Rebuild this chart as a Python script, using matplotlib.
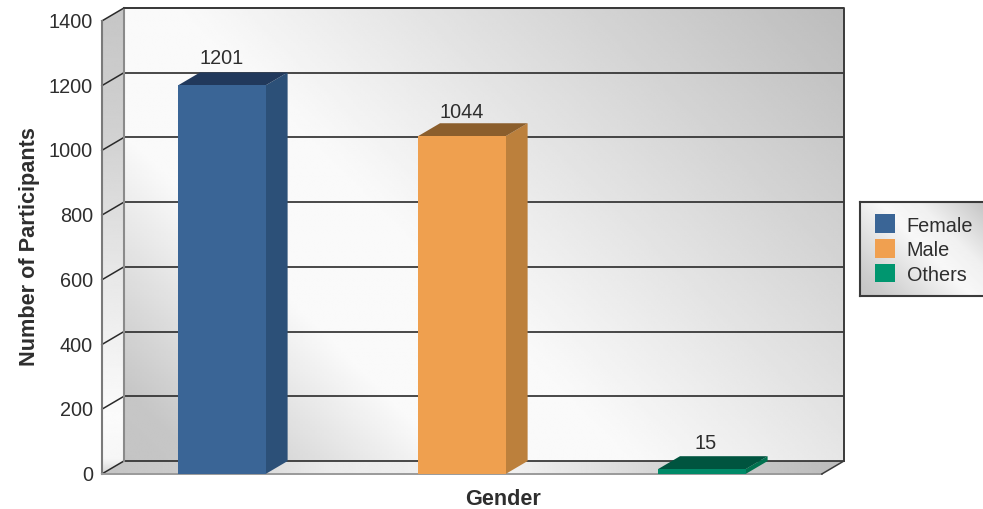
"""
Participants by gender, drawn as a 3D-looking bar chart.
The depth is faked with an offset on each face.
"""

import numpy as np
import matplotlib
matplotlib.use("Agg")
import matplotlib.pyplot as plt
from matplotlib.patches import Patch, Polygon
from matplotlib.transforms import ScaledTranslation

# Data
categories = ["Female", "Male", "Others"]
participants = [1201, 1044, 15]
y_ticks = [0, 200, 400, 600, 800, 1000, 1200, 1400]

# Colours: front, side, top
front_colors = ["#3A6596", "#EFA04F", "#008A68"]
side_colors = ["#2C5078", "#BC803C", "#00714F"]
top_colors = ["#21395C", "#8B5E2C", "#00543F"]
legend_colors = ["#3A6596", "#F0A050", "#00966F"]

# Configuration
plt.rcParams["font.family"] = ["Liberation Sans", "DejaVu Sans"]
TEXT_COLOR = "#2E2E2E"
FONT_SIZE = 14.3
BAR_WIDTH = 0.365
DEPTH_X = 0.0917   # 22 px
DEPTH_Y = 40       # 13 px
Y_MAX = 1400
X_MAX = 3


def ramp(t, stops, values):
    return np.interp(t, stops, np.array(values) / 255)


fig = plt.figure(figsize=(9.83, 5.10), dpi=100)
ax = fig.add_axes([101.8 / 983, 35 / 510, 720 / 983, 453 / 510])
ax.patch.set_alpha(0)


def face(values, corners, zorder=1):
    # Paint a gradient and clip it to the parallelogram of that face
    xs = [c[0] for c in corners]
    ys = [c[1] for c in corners]
    img = ax.imshow(values, cmap="gray", vmin=0, vmax=1, aspect="auto", origin="lower",
                    extent=(min(xs), max(xs), min(ys), max(ys)), zorder=zorder,
                    interpolation="bilinear")
    poly = Polygon(corners, closed=True, transform=ax.transData, facecolor="none", edgecolor="none")
    ax.add_patch(poly)
    img.set_clip_box(fig.bbox)
    img.set_clip_path(poly)


# Back wall, diagonal gradient
gx, gy = np.meshgrid(np.linspace(0, 1, 300), np.linspace(0, 1, 200))
t_wall = (gx * 719 + gy * 453) / 1172
back = ramp(t_wall, [0, 0.06, 0.28, 0.44, 1], [0xC4, 0xC6, 0xFA, 0xF9, 0xBC])
face(back, [(DEPTH_X, DEPTH_Y), (X_MAX + DEPTH_X, DEPTH_Y),
            (X_MAX + DEPTH_X, Y_MAX + DEPTH_Y), (DEPTH_X, Y_MAX + DEPTH_Y)])

# Left wall, lighter towards the bottom
left = ramp(gy, [0, 0.03, 0.12, 0.45, 0.75, 1], [0xD8, 0xF6, 0xFB, 0xE6, 0xD0, 0xC6])
face(left, [(0, 0), (DEPTH_X, DEPTH_Y), (DEPTH_X, Y_MAX + DEPTH_Y), (0, Y_MAX)], zorder=1.2)

# Floor
floor = ramp(gx, [0, 0.12, 0.3, 0.55, 0.85, 1], [0xC4, 0xCC, 0xEA, 0xF1, 0xC8, 0xBC])
face(floor, [(0, 0), (X_MAX, 0), (X_MAX + DEPTH_X, DEPTH_Y), (DEPTH_X, DEPTH_Y)], zorder=1.4)

# Gridlines along the back wall and the slanted bit on the left wall
for tick in y_ticks:
    ax.plot([DEPTH_X, X_MAX + DEPTH_X], [tick + DEPTH_Y, tick + DEPTH_Y], color="#2A2A2A",
            lw=1.2, clip_on=False, zorder=2, solid_capstyle="butt")
    ax.plot([0, DEPTH_X], [tick, tick + DEPTH_Y], color="#2A2A2A", lw=1.1, clip_on=False, zorder=2)

# Wall outlines
ax.plot([0, 0], [0, Y_MAX], color="#7A7A7A", lw=1.5, clip_on=False, zorder=2)
ax.plot([DEPTH_X, DEPTH_X], [DEPTH_Y, Y_MAX + DEPTH_Y], color="#8A8A8A", lw=1.5, clip_on=False, zorder=2)
ax.plot([DEPTH_X, X_MAX + DEPTH_X, X_MAX + DEPTH_X], [Y_MAX + DEPTH_Y, Y_MAX + DEPTH_Y, DEPTH_Y],
        color="#3A3A3A", lw=1.4, clip_on=False, zorder=2)
ax.plot([0, X_MAX], [0, 0], color="#9A9A9A", lw=1.4, clip_on=False, zorder=2)
ax.plot([X_MAX, X_MAX + DEPTH_X], [0, DEPTH_Y], color="#3A3A3A", lw=1.1, clip_on=False, zorder=2)

# Bars
positions = np.arange(len(categories)) + 0.5
ax.bar(positions, participants, width=BAR_WIDTH, color=front_colors, zorder=3.2)
for pos, val, side, top in zip(positions, participants, side_colors, top_colors):
    x0 = pos - BAR_WIDTH / 2
    x1 = pos + BAR_WIDTH / 2
    ax.fill([x1, x1 + DEPTH_X, x1 + DEPTH_X, x1], [0, DEPTH_Y, val + DEPTH_Y, val],
            color=side, lw=0, clip_on=False, zorder=3)
    ax.fill([x0, x1, x1 + DEPTH_X, x0 + DEPTH_X], [val, val, val + DEPTH_Y, val + DEPTH_Y],
            color=top, lw=0, clip_on=False, zorder=3.1)

# Value labels, offsets in px from the default spot
label_dx = [0, 0, 4]
label_dy = [0, -4, -2]
for pos, val, dx, dy in zip(positions, participants, label_dx, label_dy):
    ax.annotate(str(val), xy=(pos, val), xytext=(dx * 0.72, 13.5 + dy * 0.72), textcoords="offset points",
                ha="center", va="bottom", fontsize=FONT_SIZE, color=TEXT_COLOR, zorder=4)

# Axes
ax.set_xlim(0, X_MAX)
ax.set_ylim(0, Y_MAX)
ax.set_xticks([])
ax.set_yticks(y_ticks)
ax.tick_params(axis="y", length=0, pad=6.5, labelsize=FONT_SIZE, labelcolor=TEXT_COLOR)
# Tick labels sit about 1.5 px above the gridline start
lift = ScaledTranslation(0, 1.5 / 100, fig.dpi_scale_trans)
for lbl in ax.get_yticklabels():
    lbl.set_transform(lbl.get_transform() + lift)
for spine in ax.spines.values():
    spine.set_visible(False)
ax.set_xlabel("Gender", fontsize=15.6, fontweight="bold", color=TEXT_COLOR)
ax.xaxis.set_label_coords(401 / 720, -14.5 / 453, transform=ax.transAxes)
ax.set_ylabel("Number of Participants", fontsize=15.6, fontweight="bold", color=TEXT_COLOR)
ax.yaxis.set_label_coords(-62 / 720, 228 / 453, transform=ax.transAxes)

# Legend box with its own gradient, runs off the right edge of the image
box = fig.add_axes([859.5 / 983, (510 - 297) / 510, 130 / 983, 94 / 510], zorder=5)
bx, by = np.meshgrid(np.linspace(0, 1, 130), np.linspace(0, 1, 94))
box.imshow(ramp((bx * 130 + by * 94) / 224, [0, 0.12, 0.5, 0.68, 1], [0xC4, 0xCC, 0xF8, 0xF0, 0xC0]),
           cmap="gray", vmin=0, vmax=1, aspect="auto", origin="lower")
box.set_xticks([])
box.set_yticks([])
for spine in box.spines.values():
    spine.set_color("#3A3A3A")
    spine.set_linewidth(1.5)

handles = [Patch(facecolor=c, edgecolor="none") for c in legend_colors]
leg = box.legend(handles, categories, loc="upper left", bbox_to_anchor=(15 / 130, 81.5 / 94),
                 bbox_transform=box.transAxes, frameon=False, borderpad=0, borderaxespad=0,
                 fontsize=FONT_SIZE, handlelength=1.05, handleheight=1.08, handletextpad=0.58,
                 labelspacing=0.22, labelcolor=TEXT_COLOR)

fig.savefig("out.png", dpi=100)
